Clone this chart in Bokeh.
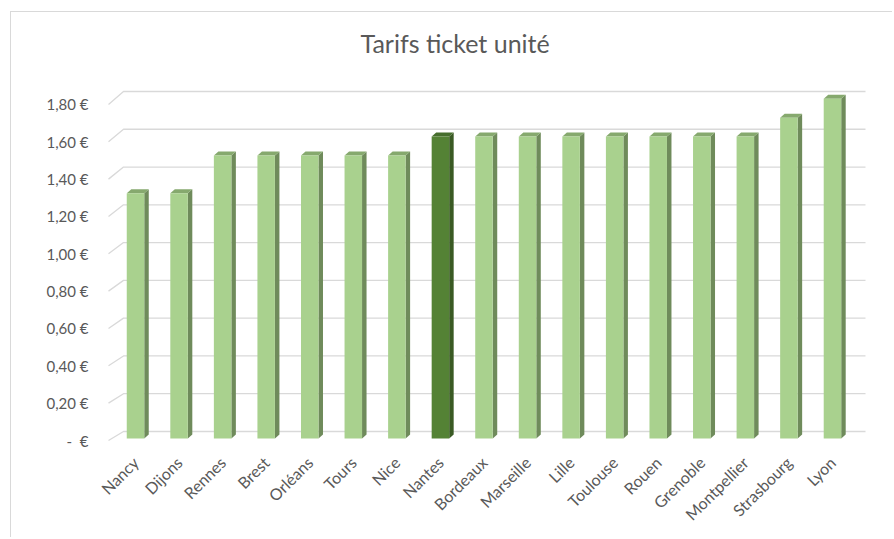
from math import pi
from bokeh.plotting import figure
from bokeh.models import Range1d, LinearAxis, FixedTicker, CustomJSTickFormatter
from bokeh.embed import file_html
from bokeh.resources import INLINE

# ---------------- data ----------------
villes = ["Nancy", "Dijons", "Rennes", "Brest", "Orléans", "Tours", "Nice", "Nantes",
          "Bordeaux", "Marseille", "Lille", "Toulouse", "Rouen", "Grenoble",
          "Montpellier", "Strasbourg", "Lyon"]
tarifs = [1.30, 1.30, 1.50, 1.50, 1.50, 1.50, 1.50, 1.60,
          1.60, 1.60, 1.60, 1.60, 1.60, 1.60, 1.60, 1.70, 1.80]
ticks = [0, 0.2, 0.4, 0.6, 0.8, 1.0, 1.2, 1.4, 1.6, 1.8]
highlight = "Nantes"
titre = "Tarifs ticket unité"

# ---------------- geometry (page pixels) ----------------
W, H = 882, 526
CX, CY = 11, 12                  # canvas origin on the page
FL, FR, FT, FB = 104, 880, 70, 447
BX0, BDX = 135.0, 43.56          # first bar centre, spacing
BY0, BDY = 438.0, 188.7          # zero of bar front plane, px per euro


def dx(px):
    return (px - BX0) / BDX


def dy(py):
    return (BY0 - py) / BDY


FRONT_Y0, FRONT_S = 440.0, 186.7
BACK_Y0, BACK_S = 431.0, 188.9

p = figure(width=W, height=H, output_backend="svg", toolbar_location=None,
           x_range=Range1d(dx(FL), dx(FR)), y_range=Range1d(dy(FB), dy(FT)),
           y_axis_location=None, title=titre,
           min_border_left=FL - CX, min_border_right=CX + W - FR,
           min_border_top=FT - CY, min_border_bottom=CY + H - FB)
p.margin = (11, 0, 0, 10)
p.styles = {"border-left": "1px solid #d9d9d9", "border-top": "1px solid #d9d9d9"}
p.extra_y_ranges = {"front": Range1d((FRONT_Y0 - FB) / FRONT_S, (FRONT_Y0 - FT) / FRONT_S)}
p.outline_line_color = None
p.xgrid.visible = False
p.ygrid.visible = False
p.background_fill_color = "white"
p.border_fill_color = "white"

# title
p.title.text_font = "Lato"
p.title.text_font_size = "25px"
p.title.text_font_style = "normal"
p.title.text_color = "#595959"
p.title.align = "left"
p.title.offset = 256
p.title.standoff = 26

# grid (back wall + floor slant)
gx, gy = [], []
for t in ticks:
    yb = dy(BACK_Y0 - BACK_S * t)
    yf = dy(FRONT_Y0 - FRONT_S * t)
    gx.append([dx(108), dx(123), dx(865)])
    gy.append([yf, yb, yb])
p.multi_line(gx, gy, line_color="#d9d9d9", line_width=1.3)

# bars (pseudo 3D)
xs = list(range(len(villes)))
hw = 8.75 / BDX
ddx = 4.5 / BDX
ddy = 4.0 / BDY
light = ("#a9d18e", "#6f8b5b", "#86a96e")
dark = ("#548235", "#3a5a24", "#466e2d")
pal = [dark if v == highlight else light for v in villes]

side_x = [[x + hw, x + hw + ddx, x + hw + ddx, x + hw] for x in xs]
side_y = [[0, ddy, t + ddy, t] for t in tarifs]
top_x = [[x - hw, x + hw, x + hw + ddx, x - hw + ddx] for x in xs]
top_y = [[t, t, t + ddy, t + ddy] for t in tarifs]
p.patches(side_x, side_y, fill_color=[c[1] for c in pal], line_color=None)
p.patches(top_x, top_y, fill_color=[c[2] for c in pal], line_color=None)
p.vbar(x=xs, top=tarifs, bottom=0, width=2 * hw,
       fill_color=[c[0] for c in pal], line_color=None)

# x axis
xa = p.xaxis[0]
xa.ticker = FixedTicker(ticks=xs)
xa.major_label_overrides = {i: v for i, v in enumerate(villes)}
xa.major_label_orientation = pi / 4
xa.axis_line_color = None
xa.major_tick_line_color = None
xa.minor_tick_line_color = None
xa.major_tick_out = 0
xa.major_tick_in = 0
xa.major_label_standoff = 12
xa.major_label_text_font = "Lato"
xa.major_label_text_font_size = "16px"
xa.major_label_text_color = "#595959"

# y axis
ya = LinearAxis(y_range_name="front", ticker=FixedTicker(ticks=ticks),
                formatter=CustomJSTickFormatter(code="""
                    if (Math.abs(tick) < 1e-6) { return "-\\u00a0\\u00a0\\u20ac"; }
                    return tick.toFixed(2).replace(".", ",") + "\\u00a0\\u20ac";
                """))
ya.axis_line_color = None
ya.major_tick_line_color = None
ya.minor_tick_line_color = None
ya.major_tick_out = 0
ya.major_tick_in = 0
ya.major_label_standoff = 16
ya.major_label_text_font = "Lato"
ya.major_label_text_font_size = "15px"
ya.major_label_text_color = "#595959"
p.add_layout(ya, "left")

open("out.html", "w").write(file_html(p, INLINE))
